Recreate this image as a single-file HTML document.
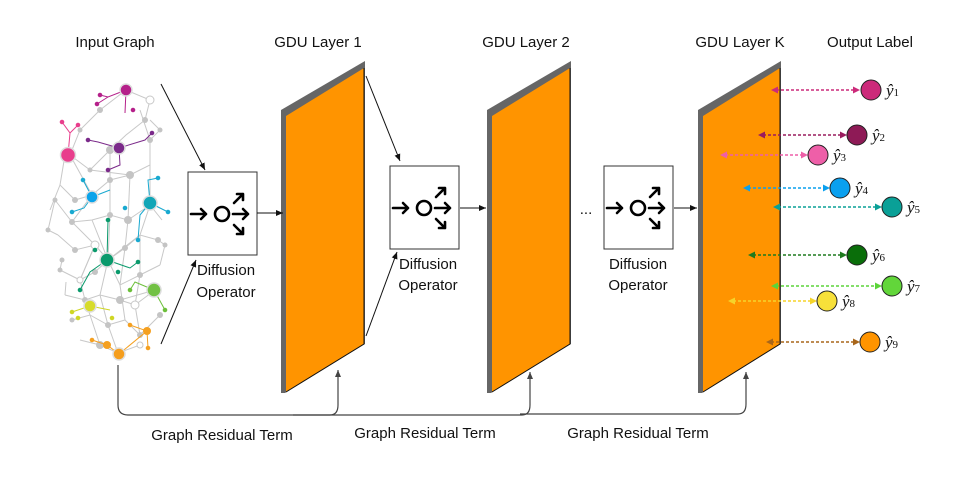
<!DOCTYPE html>
<html><head><meta charset="utf-8"><style>
html,body{margin:0;padding:0;background:#fff}
svg{display:block}
text{font-family:"Liberation Sans",sans-serif;fill:#111}
.m{font-family:"Liberation Serif",serif;font-style:italic}
</style></head><body>
<svg width="956" height="485" viewBox="0 0 956 485" xmlns="http://www.w3.org/2000/svg">
<defs>
<marker id="ah" markerWidth="8" markerHeight="8" refX="7" refY="4" orient="auto" markerUnits="userSpaceOnUse"><path d="M0,1 L7,4 L0,7 Z" fill="#111"/></marker>
<marker id="ag" markerWidth="8" markerHeight="8" refX="7" refY="4" orient="auto" markerUnits="userSpaceOnUse"><path d="M0,1 L7,4 L0,7 Z" fill="#444"/></marker>
<g id="dop">
<rect x="0" y="0" width="69" height="83" fill="#fff" stroke="#333" stroke-width="1"/>
<g stroke="#000" stroke-width="2.6" fill="none" stroke-linecap="round" stroke-linejoin="round">
<path d="M3,42 H18 M13,37 L18,42 L13,47"/>
<circle cx="34" cy="42" r="7"/>
<path d="M45,42 H60 M55,37 L60,42 L55,47"/>
<path d="M46,31 L55,22 M49,22 H55 V28"/>
<path d="M46,53 L55,62 M49,62 H55 V56"/>
</g>
</g>
</defs>

<g font-size="15">
<text x="115" y="47" text-anchor="middle">Input Graph</text>
<text x="318" y="47" text-anchor="middle">GDU Layer 1</text>
<text x="526" y="47" text-anchor="middle">GDU Layer 2</text>
<text x="740" y="47" text-anchor="middle">GDU Layer K</text>
<text x="870" y="47" text-anchor="middle">Output Label</text>
</g>

<!-- input graph -->
<g stroke="#c8c8c8" stroke-width="1" fill="none">
<path d="M126,90 L100,110 L80,130 L70,155 L90,170 L110,150 L126,135 L145,120 L150,100 L126,90"/>
<path d="M65,155 L60,185 L75,200 L92,195 L110,180 L130,175 L150,165 L150,140 L140,110"/>
<path d="M55,200 L72,222 L92,220 L110,215 L128,220 L150,205 L162,220"/>
<path d="M58,235 L75,250 L95,245 L108,260 L125,248 L140,235 L158,240"/>
<path d="M60,270 L80,280 L95,272 L108,260 L120,285 L140,275 L160,265"/>
<path d="M65,295 L85,300 L100,295 L120,300 L135,305 L155,290"/>
<path d="M72,320 L90,315 L108,325 L125,320 L140,335 L160,315"/>
<path d="M80,340 L100,345 L118,353 L140,345"/>
<path d="M70,155 L92,195 L72,222 L95,245 L80,280 L85,300 L90,315 L100,345"/>
<path d="M110,150 L110,180 L110,215 L108,260 L100,295 L108,325 L118,353"/>
<path d="M150,165 L150,205 L140,235 L140,275 L135,305 L140,335"/>
<path d="M90,170 L130,175 L128,220 L125,248 L120,285 L125,320"/>
<path d="M92,220 L108,260 L140,235 M95,245 L80,280 M120,300 L155,290"/>
<path d="M60,185 L50,210 M55,200 L48,230 L58,235 M160,265 L165,245 L158,240 M62,260 L60,270 M66,282 L65,295 M150,120 L160,130 L150,140"/>
</g>
<g fill="#c4c4c4">
<circle cx="100" cy="110" r="3"/><circle cx="80" cy="130" r="2.5"/><circle cx="145" cy="120" r="3"/><circle cx="110" cy="150" r="4"/><circle cx="90" cy="170" r="2.5"/><circle cx="130" cy="175" r="4"/><circle cx="75" cy="200" r="3"/><circle cx="110" cy="180" r="3"/><circle cx="128" cy="220" r="4"/><circle cx="72" cy="222" r="3"/><circle cx="110" cy="215" r="3"/><circle cx="75" cy="250" r="3"/><circle cx="125" cy="248" r="3"/><circle cx="158" cy="240" r="3"/><circle cx="60" cy="270" r="2.5"/><circle cx="95" cy="272" r="3"/><circle cx="140" cy="275" r="3"/><circle cx="85" cy="300" r="3"/><circle cx="120" cy="300" r="4"/><circle cx="72" cy="320" r="2.5"/><circle cx="108" cy="325" r="3"/><circle cx="140" cy="335" r="3"/><circle cx="100" cy="345" r="4"/><circle cx="150" cy="140" r="3"/><circle cx="55" cy="200" r="2.5"/><circle cx="160" cy="315" r="3"/><circle cx="48" cy="230" r="2.5"/><circle cx="165" cy="245" r="2.5"/><circle cx="160" cy="130" r="2.5"/><circle cx="62" cy="260" r="2.5"/>
</g>
<g fill="#fff" stroke="#c8c8c8"><circle cx="150" cy="100" r="4"/><circle cx="92" cy="195" r="4"/><circle cx="95" cy="245" r="4"/><circle cx="135" cy="305" r="4"/><circle cx="140" cy="345" r="3"/><circle cx="80" cy="280" r="3"/></g>
<g stroke-width="1">
<g stroke="#b5208a" fill="#b5208a"><path d="M126,90 L125,113 M126,90 L108,97 L100,95 M108,97 L97,104" fill="none"/><circle cx="100" cy="95" r="1.8"/><circle cx="97" cy="104" r="1.8"/><circle cx="133" cy="110" r="1.8"/></g>
<g stroke="#e83e8c" fill="#e83e8c"><path d="M68,155 L70,133 L62,122 M70,133 L78,125" fill="none"/><circle cx="62" cy="122" r="1.8"/><circle cx="78" cy="125" r="1.8"/></g>
<g stroke="#7b2a8a" fill="#7b2a8a"><path d="M119,148 L98,142 L88,140 M119,148 L145,140 L152,133 M119,148 L120,165 L108,170" fill="none"/><circle cx="88" cy="140" r="1.8"/><circle cx="152" cy="133" r="1.8"/><circle cx="108" cy="170" r="1.8"/></g>
<g stroke="#19a9d0" fill="#19a9d0"><path d="M92,197 L83,180 M92,197 L110,190 M92,197 L84,208 L72,212 M150,203 L148,180 L158,178 M150,203 L140,215 L138,240 M150,203 L168,212" fill="none"/><circle cx="83" cy="180" r="1.8"/><circle cx="72" cy="212" r="1.8"/><circle cx="158" cy="178" r="1.8"/><circle cx="138" cy="240" r="1.8"/><circle cx="168" cy="212" r="1.8"/><circle cx="125" cy="208" r="1.8"/></g>
<g stroke="#0a9a6c" fill="#0a9a6c"><path d="M107,260 L108,220 M107,260 L90,272 L80,290 M107,260 L130,268 L138,262" fill="none"/><circle cx="108" cy="220" r="1.8"/><circle cx="80" cy="290" r="1.8"/><circle cx="138" cy="262" r="1.8"/><circle cx="95" cy="250" r="1.8"/><circle cx="118" cy="272" r="1.8"/></g>
<g stroke="#6cbf3a" fill="#6cbf3a"><path d="M154,290 L135,282 L130,290 M154,290 L165,310" fill="none"/><circle cx="130" cy="290" r="1.8"/><circle cx="165" cy="310" r="1.8"/></g>
<g stroke="#cfd624" fill="#cfd624"><path d="M90,306 L72,312 M90,306 L110,310" fill="none"/><circle cx="72" cy="312" r="1.8"/><circle cx="78" cy="318" r="1.8"/><circle cx="112" cy="318" r="1.8"/></g>
<g stroke="#f5a020" fill="#f5a020"><path d="M119,354 L107,345 L92,340 M119,354 L147,331 L130,325 M147,331 L148,348" fill="none"/><circle cx="107" cy="345" r="3.5"/><circle cx="147" cy="331" r="3.5"/><circle cx="92" cy="340" r="1.8"/><circle cx="130" cy="325" r="1.8"/><circle cx="148" cy="348" r="1.8"/></g>
</g>
<g stroke="#ddd" stroke-width="1.5">
<circle cx="126" cy="90" r="6" fill="#b5208a"/><circle cx="68" cy="155" r="7.5" fill="#e83e8c"/><circle cx="119" cy="148" r="6" fill="#7b2a8a"/><circle cx="92" cy="197" r="6" fill="#0aa3ea"/><circle cx="150" cy="203" r="7" fill="#12a6b7"/><circle cx="107" cy="260" r="7" fill="#0a9a6c"/><circle cx="154" cy="290" r="7" fill="#72c144"/><circle cx="90" cy="306" r="6" fill="#d7dc2b"/><circle cx="119" cy="354" r="6" fill="#f59e1e"/>
</g>

<use href="#dop" x="188" y="172"/>
<use href="#dop" x="390" y="166"/>
<use href="#dop" x="604" y="166"/>
<g font-size="15" text-anchor="middle">
<text x="226" y="275">Diffusion</text><text x="226" y="297">Operator</text>
<text x="428" y="269">Diffusion</text><text x="428" y="290">Operator</text>
<text x="638" y="269">Diffusion</text><text x="638" y="290">Operator</text>
</g>
<text x="586" y="214" font-size="15" text-anchor="middle">...</text>

<g>
<path d="M281,110 L365,61 L365,344 L285,393 L281,393 Z" fill="#666"/>
<path d="M286,116 L364,68 L364,344 L286,392 Z" fill="#ff9400"/>
<path d="M364,68 L364,344 L286,392" fill="none" stroke="#111" stroke-width="1"/>
<path d="M487,110 L571,61 L571,344 L491,393 L487,393 Z" fill="#666"/>
<path d="M492,116 L570,68 L570,344 L492,392 Z" fill="#ff9400"/>
<path d="M570,68 L570,344 L492,392" fill="none" stroke="#111" stroke-width="1"/>
<path d="M698,110 L781,61 L781,344 L702,393 L698,393 Z" fill="#666"/>
<path d="M703,116 L780,68 L780,344 L703,392 Z" fill="#ff9400"/>
<path d="M780,68 L780,344 L703,392" fill="none" stroke="#111" stroke-width="1"/>
</g>

<g stroke="#111" stroke-width="1" fill="none" marker-end="url(#ah)">
<path d="M161,84 L205,170"/>
<path d="M161,344 L196,260"/>
<path d="M257,213 L283,213"/>
<path d="M366,76 L400,161"/>
<path d="M366,336 L397,252"/>
<path d="M460,208 L486,208"/>
<path d="M674,208 L697,208"/>
</g>
<g stroke="#444" stroke-width="1.2" fill="none">
<path d="M118,365 V405 Q118,415 128,415 H330 Q338,415 338,405 V370" marker-end="url(#ag)"/>
<path d="M293,415 H522 Q530,415 530,405 V372" marker-end="url(#ag)"/>
<path d="M520,414 H738 Q746,414 746,404 V372" marker-end="url(#ag)"/>
</g>
<g font-size="15" text-anchor="middle">
<text x="222" y="440">Graph Residual Term</text>
<text x="425" y="438">Graph Residual Term</text>
<text x="638" y="438">Graph Residual Term</text>
</g>

<!-- outputs -->
<g stroke-width="1.5" stroke-dasharray="3,2" fill="none">
<path d="M776,90 H855" stroke="#cc2a7a"/>
<path d="M763,135 H843" stroke="#9a1b5e"/>
<path d="M725,155 H804" stroke="#ee5fa8"/>
<path d="M748,188 H826" stroke="#0aa0ef"/>
<path d="M778,207 H877" stroke="#0aa097"/>
<path d="M753,255 H843" stroke="#1e7a1e"/>
<path d="M776,286 H877" stroke="#5cd43a"/>
<path d="M733,301 H812" stroke="#f5d42a"/>
<path d="M771,342 H855" stroke="#a8661a"/>
</g>
<g>
<path fill="#cc2a7a" d="M771,90 l7,-3.5 v7 Z M860,90 l-7,-3.5 v7 Z"/>
<path fill="#9a1b5e" d="M758,135 l7,-3.5 v7 Z M847,135 l-7,-3.5 v7 Z"/>
<path fill="#ee5fa8" d="M720,155 l7,-3.5 v7 Z M808,155 l-7,-3.5 v7 Z"/>
<path fill="#0aa0ef" d="M743,188 l7,-3.5 v7 Z M830,188 l-7,-3.5 v7 Z"/>
<path fill="#0aa097" d="M773,207 l7,-3.5 v7 Z M882,207 l-7,-3.5 v7 Z"/>
<path fill="#1e7a1e" d="M748,255 l7,-3.5 v7 Z M847,255 l-7,-3.5 v7 Z"/>
<path fill="#5cd43a" d="M771,286 l7,-3.5 v7 Z M882,286 l-7,-3.5 v7 Z"/>
<path fill="#f5d42a" d="M728,301 l7,-3.5 v7 Z M817,301 l-7,-3.5 v7 Z"/>
<path fill="#a8661a" d="M766,342 l7,-3.5 v7 Z M860,342 l-7,-3.5 v7 Z"/>
</g>
<g stroke="#222" stroke-width="1">
<circle cx="871" cy="90" r="10" fill="#cc2a7a"/>
<circle cx="857" cy="135" r="10" fill="#8e1a56"/>
<circle cx="818" cy="155" r="10" fill="#ee5fa8"/>
<circle cx="840" cy="188" r="10" fill="#0aa0ef"/>
<circle cx="892" cy="207" r="10" fill="#0aa097"/>
<circle cx="857" cy="255" r="10" fill="#0a6e0a"/>
<circle cx="892" cy="286" r="10" fill="#62d63a"/>
<circle cx="827" cy="301" r="10" fill="#f7e03a"/>
<circle cx="870" cy="342" r="10" fill="#ff9400"/>
</g>
<g font-size="17">
<text x="886" y="96" class="m">ŷ<tspan font-size="11" font-style="normal">1</tspan></text>
<text x="872" y="141" class="m">ŷ<tspan font-size="11" font-style="normal">2</tspan></text>
<text x="833" y="161" class="m">ŷ<tspan font-size="11" font-style="normal">3</tspan></text>
<text x="855" y="194" class="m">ŷ<tspan font-size="11" font-style="normal">4</tspan></text>
<text x="907" y="213" class="m">ŷ<tspan font-size="11" font-style="normal">5</tspan></text>
<text x="872" y="261" class="m">ŷ<tspan font-size="11" font-style="normal">6</tspan></text>
<text x="907" y="292" class="m">ŷ<tspan font-size="11" font-style="normal">7</tspan></text>
<text x="842" y="307" class="m">ŷ<tspan font-size="11" font-style="normal">8</tspan></text>
<text x="885" y="348" class="m">ŷ<tspan font-size="11" font-style="normal">9</tspan></text>
</g>
</svg>
</body></html>
